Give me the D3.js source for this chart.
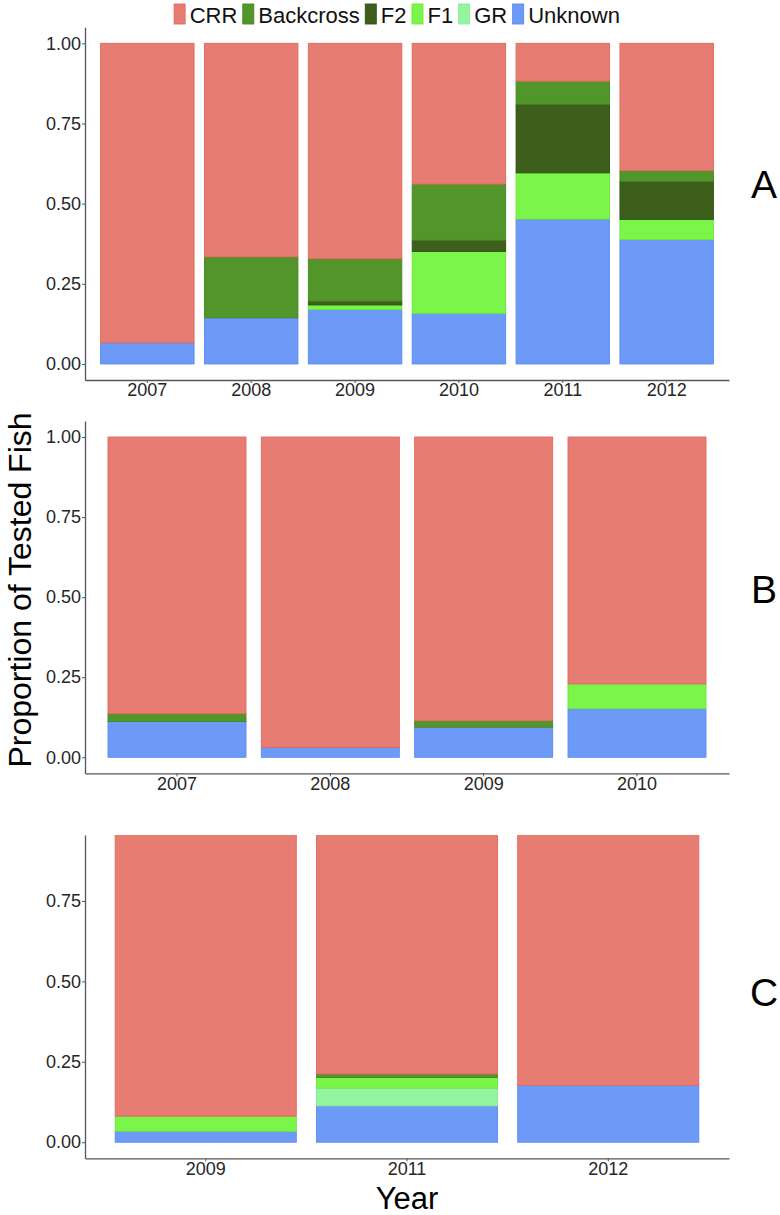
<html>
<head>
<script src="https://d3js.org/d3.v7.min.js"></script>
<style>
body { margin: 0; background: #fff; }
text { font-family: "Liberation Sans", Arial, sans-serif; }
</style>
</head>
<body>
<div id="chart"></div>
<script>

// genotype classes, legend order (stacked bottom-up in reverse)
const categories = ["CRR", "Backcross", "F2", "F1", "GR", "Unknown"];
const colors = ["#E77C72", "#52962B", "#3E5F1C", "#7CF54A", "#93F5A0", "#6D9AF6"];
const strokes = ["#E2685D", "#40891D", "#2E4F12", "#6AE838", "#84EE93", "#5B8BF0"];

// panel A
const yearsA = ["2007", "2008", "2009", "2010", "2011", "2012"];
const crrA = [0.934, 0.666, 0.672, 0.439, 0.118, 0.397];
const backcrossA = [0, 0.190, 0.132, 0.175, 0.072, 0.034];
const f2A = [0, 0, 0.012, 0.035, 0.214, 0.118];
const f1A = [0, 0, 0.014, 0.193, 0.144, 0.063];
const grA = [0, 0, 0, 0, 0, 0];
const unknownA = [0.066, 0.144, 0.170, 0.158, 0.452, 0.388];

// panel B
const yearsB = ["2007", "2008", "2009", "2010"];
const crrB = [0.864, 0.969, 0.886, 0.771];
const backcrossB = [0.024, 0, 0.020, 0];
const f2B = [0, 0, 0, 0];
const f1B = [0, 0, 0, 0.077];
const grB = [0, 0, 0, 0];
const unknownB = [0.112, 0.031, 0.094, 0.152];

// panel C
const yearsC = ["2009", "2011", "2012"];
const crrC = [0.919, 0.789, 0.823];
const backcrossC = [0, 0.011, 0];
const f2C = [0, 0, 0];
const f1C = [0.047, 0.033, 0];
const grC = [0, 0.055, 0];
const unknownC = [0.034, 0.113, 0.177];

const ticksAB = [0, 0.25, 0.5, 0.75, 1];
const ticksC = [0, 0.25, 0.5, 0.75];

const W = 780, H = 1215;
const left = 85, right = 729;

const svg = d3.select("#chart").append("svg")
  .attr("width", W)
  .attr("height", H);

const colorScale = d3.scaleOrdinal().domain(categories).range(colors);
const strokeScale = d3.scaleOrdinal().domain(categories).range(strokes);
const stackKeys = categories.slice().reverse();

function makeRows(years, series) {
  return years.map((yr, i) => {
    const row = { year: yr };
    categories.forEach((c, j) => { row[c] = series[j][i]; });
    return row;
  });
}

function drawPanel(id, years, series, top, bottom, yMax, ticks, letter, letterY) {
  const rows = makeRows(years, series);
  const x = d3.scaleBand().domain(years).range([left, right])
    .paddingInner(0.1).paddingOuter(0.15);
  const y = d3.scaleLinear().domain([-0.05, yMax]).range([bottom, top]);

  svg.append("clipPath").attr("id", "clip" + id)
    .append("rect")
    .attr("x", left).attr("y", top)
    .attr("width", right - left).attr("height", bottom - top);

  const stacked = d3.stack().keys(stackKeys)(rows);

  const g = svg.append("g").attr("clip-path", "url(#clip" + id + ")");
  g.selectAll("g.layer")
    .data(stacked)
    .enter().append("g")
    .attr("class", "layer")
    .attr("fill", d => colorScale(d.key))
    .attr("stroke", d => strokeScale(d.key))
    .attr("stroke-width", 0.9)
    .selectAll("rect")
    .data(d => d.filter(s => s[1] - s[0] > 0))
    .enter().append("rect")
    .attr("x", d => x(d.data.year))
    .attr("width", x.bandwidth())
    .attr("y", d => y(d[1]))
    .attr("height", d => y(d[0]) - y(d[1]));

  const yAxis = svg.append("g")
    .attr("transform", "translate(" + left + ",0)")
    .call(d3.axisLeft(y).tickValues(ticks).tickFormat(d3.format(".2f"))
      .tickSize(3).tickSizeOuter(0).tickPadding(1));

  const xAxis = svg.append("g")
    .attr("transform", "translate(0," + bottom + ")")
    .call(d3.axisBottom(x).tickSize(3).tickSizeOuter(0).tickPadding(0.5));

  [yAxis, xAxis].forEach(ax => {
    ax.select(".domain").attr("stroke", "#555").attr("stroke-width", 1.3);
    ax.selectAll(".tick line").attr("stroke", "#555").attr("stroke-width", 1);
    ax.selectAll(".tick text")
      .attr("font-family", "Liberation Sans, Arial, sans-serif")
      .attr("font-size", "18px")
      .attr("fill", "#262626");
  });

  svg.append("text")
    .attr("x", 764)
    .attr("y", letterY)
    .attr("text-anchor", "middle")
    .attr("font-size", "39px")
    .attr("fill", "#000")
    .text(letter);
}

drawPanel("A", yearsA, [crrA, backcrossA, f2A, f1A, grA, unknownA], 27.3, 380, 1.05, ticksAB, "A", 198);
drawPanel("B", yearsB, [crrB, backcrossB, f2B, f1B, grB, unknownB], 421, 773.3, 1.05, ticksAB, "B", 603);
drawPanel("C", yearsC, [crrC, backcrossC, f2C, f1C, grC, unknownC], 835, 1158.3, 0.955, ticksC, "C", 1006);

// axis titles
svg.append("text")
  .attr("transform", "translate(31,590) rotate(-90)")
  .attr("text-anchor", "middle")
  .attr("font-size", "32px")
  .attr("fill", "#000")
  .text("Proportion of Tested Fish");

svg.append("text")
  .attr("x", (left + right) / 2)
  .attr("y", 1209)
  .attr("text-anchor", "middle")
  .attr("font-size", "31px")
  .attr("fill", "#000")
  .text("Year");

// legend across the top
const legend = svg.append("g");
let lx = 0;
categories.forEach((c, i) => {
  const item = legend.append("g").attr("transform", "translate(" + lx + ",0)");
  item.append("rect")
    .attr("x", 0).attr("y", 4)
    .attr("width", 11).attr("height", 20)
    .attr("fill", colorScale(c))
    .attr("stroke", strokeScale(c))
    .attr("stroke-width", 0.9);
  const t = item.append("text")
    .attr("x", 15.5).attr("y", 23.3)
    .attr("font-size", "22px")
    .attr("fill", "#111")
    .text(c);
  lx += 15.5 + t.node().getComputedTextLength() + 5.5;
});
legend.attr("transform", "translate(" + (397 - (lx - 5.5) / 2) + ",0)");

</script>
</body>
</html>
